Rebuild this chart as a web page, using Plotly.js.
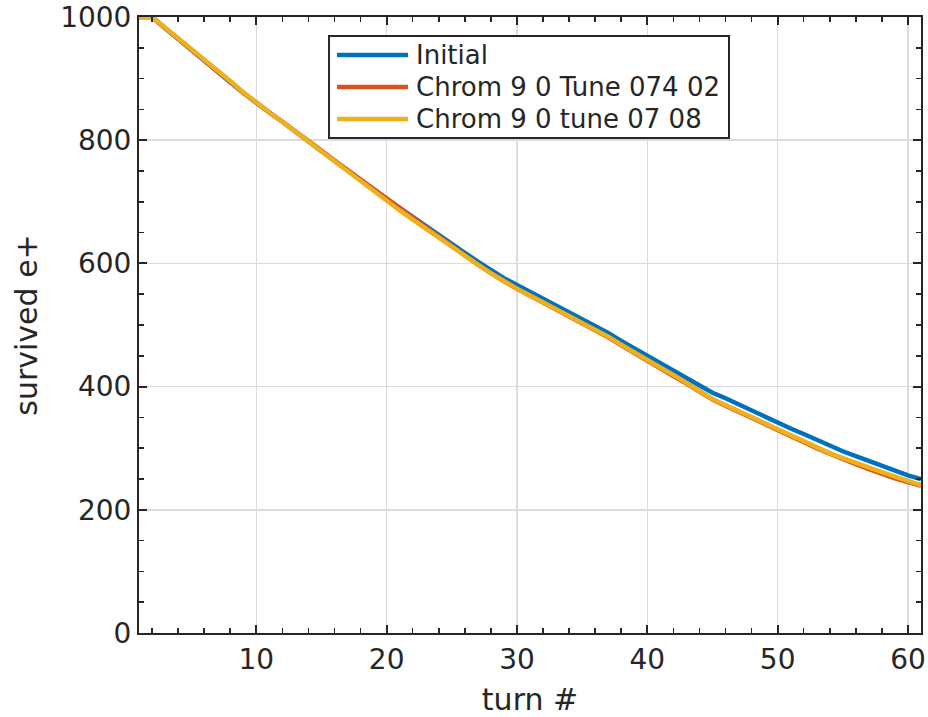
<!DOCTYPE html>
<html>
<head>
<meta charset="utf-8">
<script src="https://cdn.plot.ly/plotly-3.0.1.min.js"></script>
<style>html,body{margin:0;padding:0;background:#fff;}#chart{width:928px;height:717px;}</style>
</head>
<body>
<div id="chart"></div>
<script>
const turns = Array.from({length: 61}, (_, i) => i + 1);

const initial = [1000,1000,982,964,947,929,912,894,877,860,
  845,830,815,798,782,766,751,736,720,705,
  690,675,660,645,631,617,603,589,576,565,
  554,543,532,521,510,499,487,474,462,451,
  439,428,416,403,390,381,371,360,351,341,
  332,323,313,304,295,287,279,271,263,256,250];

const chromTune07402 = [1000,1000,982,965,948,930,913,895,877,860,
  845,830,815,799,783,767,752,737,722,707,
  691,675,659,643,628,613,598,584,571,559,
  547,536,525,514,503,492,480,467,454,441,
  429,417,405,392,379,369,359,349,339,329,
  319,309,300,291,282,274,266,258,251,245,239];

const chromTune0708 = [1000,1000,983,966,949,931,914,896,878,861,
  845,830,814,797,780,764,748,732,716,701,
  686,671,656,641,626,612,598,584,571,559,
  548,537,526,515,504,493,481,468,455,443,
  431,419,406,393,380,370,360,351,341,331,
  321,311,301,292,284,276,268,261,254,247,240];

const seriesNames = ["Initial", "Chrom 9 0 Tune 074 02", "Chrom 9 0 tune 07 08"];
const seriesColors = ["#0072BD", "#D95319", "#EDB120"];
const xTicks = [10, 20, 30, 40, 50, 60];
const yTicks = [0, 200, 400, 600, 800, 1000];

const seriesData = [initial, chromTune07402, chromTune0708];
const traces = seriesData.map((ys, i) => ({
  x: turns, y: ys, type: 'scatter', mode: 'lines', name: seriesNames[i],
  line: {color: seriesColors[i], width: 4.5}
}));

const txt = '#262626';

// Legend drawn in paper coordinates (box, sample lines, labels)
const legBox = {x0: 0.2430, x1: 0.7545, y0: 0.8036, y1: 0.9692};
const legRows = [0.9383, 0.8864, 0.8344];
const legLineX = [0.2532, 0.3440];
const legTextX = 0.3520;

const shapes = [{
  type: 'rect', xref: 'paper', yref: 'paper',
  x0: legBox.x0, x1: legBox.x1, y0: legBox.y0, y1: legBox.y1,
  line: {color: txt, width: 2}, fillcolor: '#fff', layer: 'above'
}];
const annotations = [];
seriesNames.forEach((name, i) => {
  shapes.push({
    type: 'line', xref: 'paper', yref: 'paper',
    x0: legLineX[0], x1: legLineX[1], y0: legRows[i], y1: legRows[i],
    line: {color: seriesColors[i], width: 4.5}, layer: 'above'
  });
  annotations.push({
    xref: 'paper', yref: 'paper', x: legTextX, y: legRows[i],
    xanchor: 'left', yanchor: 'middle', showarrow: false, text: name,
    font: {family: 'DejaVu Sans', size: 26, color: txt}
  });
});

const layout = {
  width: 928, height: 717,
  margin: {l: 139, r: 7, t: 17, b: 84},
  paper_bgcolor: '#fff', plot_bgcolor: '#fff',
  font: {family: 'DejaVu Sans', color: txt, size: 28},
  showlegend: false,
  shapes: shapes,
  annotations: annotations,
  xaxis: {
    range: [1, 61], tickvals: xTicks, ticktext: xTicks.map(String),
    ticks: 'inside', ticklen: 8, tickwidth: 2, tickcolor: txt,
    showline: true, linecolor: txt, linewidth: 2, mirror: 'ticks',
    showgrid: true, gridcolor: '#dcdcdc', gridwidth: 1.5, zeroline: false,
    minor: {dtick: 2, tick0: 0, ticks: 'inside', ticklen: 5, tickwidth: 1.5, tickcolor: txt, showgrid: false},
    title: {text: 'turn #', font: {size: 30, color: txt}, standoff: 16},
    tickfont: {size: 28, color: txt}
  },
  yaxis: {
    range: [0, 1000], tickvals: yTicks, ticktext: yTicks.map(String),
    ticks: 'inside', ticklen: 8, tickwidth: 2, tickcolor: txt,
    showline: true, linecolor: txt, linewidth: 2, mirror: 'ticks',
    showgrid: true, gridcolor: '#dcdcdc', gridwidth: 1.5, zeroline: false,
    minor: {dtick: 50, tick0: 0, ticks: 'inside', ticklen: 5, tickwidth: 1.5, tickcolor: txt, showgrid: false},
    title: {text: 'survived e+', font: {size: 30, color: txt}, standoff: 14},
    tickfont: {size: 28, color: txt}
  }
};

Plotly.newPlot('chart', traces, layout, {displayModeBar: false, staticPlot: true});
</script>
</body>
</html>
